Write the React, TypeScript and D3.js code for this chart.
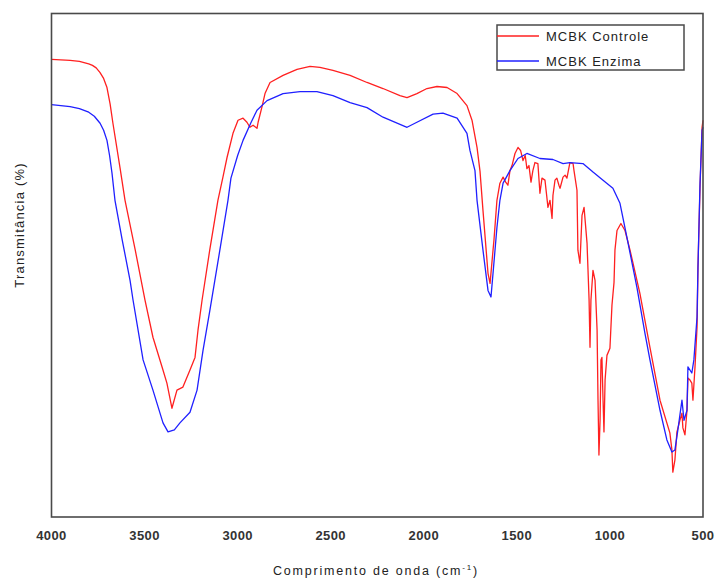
import React from "react";
import * as d3 from "d3";

const xTicks = [4000, 3500, 3000, 2500, 2000, 1500, 1000, 500];
const seriesNames = ["MCBK Controle", "MCBK Enzima"];
const seriesColors = ["#ff2020", "#2020ff"];

const controle: [number, number][] = [
  [4000, 90.9], [3900, 90.7], [3850, 90.5], [3800, 90.0], [3780, 89.7], [3760, 89.2],
  [3740, 88.3], [3720, 87.1], [3702, 85.3], [3685, 82.0], [3670, 78.2],
  [3632, 69.4], [3605, 62.9], [3550, 53.0], [3498, 43.1], [3455, 35.7], [3406, 29.8], [3380, 26.6],
  [3353, 21.6], [3326, 25.2], [3294, 25.8], [3256, 29.2], [3229, 31.7], [3213, 37.1],
  [3191, 43.1], [3150, 53.0], [3106, 62.9], [3079, 67.5], [3057, 71.4], [3025, 76.2], [2998, 78.8],
  [2971, 79.2], [2950, 78.4], [2934, 77.4], [2917, 77.8], [2896, 77.2], [2890, 78.4],
  [2869, 81.5], [2853, 84.1], [2826, 86.3], [2756, 87.7], [2681, 88.9], [2611, 89.5],
  [2558, 89.3], [2488, 88.7], [2396, 87.7], [2305, 86.3], [2219, 85.1], [2128, 83.7],
  [2090, 83.3], [2037, 84.1], [1983, 85.1], [1929, 85.5], [1875, 85.3], [1821, 84.1],
  [1768, 81.7], [1741, 78.8], [1714, 73.4], [1698, 68.7], [1682, 60.9], [1655, 48.4],
  [1644, 46.4], [1628, 53.0], [1623, 55.0], [1607, 62.9], [1591, 66.3], [1574, 67.5],
  [1560, 66.5], [1548, 65.9], [1537, 68.8], [1526, 69.8], [1510, 72.2], [1494, 73.4],
  [1480, 72.8], [1467, 70.8], [1455, 71.8], [1446, 69.2], [1435, 69.8], [1424, 66.5],
  [1414, 68.8], [1403, 70.4], [1387, 70.2], [1376, 64.3], [1365, 67.3], [1349, 66.9],
  [1340, 63.9], [1333, 61.5], [1322, 62.9], [1311, 59.3], [1306, 63.9], [1295, 66.9],
  [1285, 67.3], [1274, 65.9], [1268, 65.3], [1252, 67.5], [1241, 67.9], [1231, 67.3],
  [1215, 70.4], [1198, 70.2], [1193, 68.8], [1177, 64.9], [1172, 53.0], [1161, 50.4],
  [1150, 59.9], [1139, 61.5], [1123, 54.4], [1112, 43.1], [1107, 33.7], [1102, 43.1],
  [1091, 49.0], [1080, 47.0], [1069, 37.1], [1064, 23.2], [1059, 12.3], [1053, 19.2],
  [1048, 31.2], [1043, 31.7], [1037, 23.2], [1032, 16.9], [1026, 27.2], [1016, 32.1],
  [1000, 33.5], [989, 42.1], [978, 46.6], [973, 53.0], [962, 56.9], [941, 58.3],
  [919, 56.9], [892, 53.0], [839, 44.4], [785, 33.7], [731, 23.2], [678, 16.7],
  [667, 13.3], [662, 8.9], [651, 11.3], [640, 16.9], [624, 19.2], [613, 20.6],
  [608, 17.7], [597, 16.3], [586, 21.2], [581, 27.6], [570, 27.2], [560, 26.6],
  [554, 23.2], [543, 29.8], [532, 37.7], [527, 49.6], [516, 65.5], [505, 77.4], [500, 78.8],
];

const enzima: [number, number][] = [
  [4000, 81.9], [3900, 81.5], [3850, 81.1], [3800, 80.4], [3770, 79.6], [3739, 78.2],
  [3720, 76.8], [3702, 74.8], [3688, 71.8], [3675, 68.3],
  [3659, 62.9], [3620, 55.0], [3578, 47.0], [3562, 43.1], [3508, 31.2], [3455, 25.2], [3401, 18.7],
  [3374, 16.9], [3340, 17.3], [3310, 18.7], [3256, 20.8], [3218, 25.2], [3186, 33.1], [3149, 41.1],
  [3100, 52.0], [3052, 62.9], [3036, 67.3], [3000, 71.8], [2971, 74.8], [2930, 78.2], [2896, 80.8],
  [2842, 82.7], [2756, 84.1],
  [2665, 84.5], [2574, 84.5], [2488, 83.7], [2396, 82.3], [2305, 81.3], [2219, 79.4],
  [2090, 77.4], [2037, 78.4], [1950, 80.0], [1897, 80.2], [1821, 79.2], [1768, 76.2],
  [1752, 72.8], [1725, 68.8], [1714, 62.9], [1682, 53.0], [1655, 45.0], [1639, 43.7],
  [1628, 48.4], [1607, 57.5], [1591, 62.9], [1574, 66.3], [1537, 68.8], [1494, 71.2],
  [1446, 72.2], [1376, 71.2], [1306, 71.0], [1252, 70.2], [1215, 70.4], [1145, 70.2],
  [1091, 68.5], [1037, 66.9], [984, 65.3], [946, 62.3], [909, 55.6], [855, 45.6],
  [812, 36.5], [785, 31.2], [731, 21.2], [694, 15.3], [667, 12.9], [651, 13.3],
  [635, 17.3], [613, 23.2], [602, 19.2], [586, 21.2], [581, 29.8], [560, 28.6],
  [549, 31.2], [532, 39.7], [527, 49.6], [516, 66.3], [505, 76.8], [500, 77.4],
];

const W = 718;
const H = 579;
const left = 51.5;
const right = 703;
const top = 13.5;
const bottom = 517;

export default function App() {
  const x = d3.scaleLinear().domain([4000, 500]).range([left, right]);
  const y = d3.scaleLinear().domain([0, 100]).range([bottom, top]);
  const line = d3
    .line<[number, number]>()
    .x((d) => x(d[0]))
    .y((d) => y(d[1]));
  const series = [controle, enzima];
  const font = "Arial, 'Liberation Sans', sans-serif";
  return (
    <svg
      width={W}
      height={H}
      style={{ position: "absolute", left: 0, top: 0, background: "#fff" }}
      fontFamily={font}
    >
      <rect x={0} y={0} width={W} height={H} fill="#fff" />
      {series.map((s, i) => (
        <path
          key={i}
          d={line(s) || ""}
          fill="none"
          stroke={seriesColors[i]}
          strokeWidth={1.3}
          strokeLinejoin="round"
        />
      ))}
      <rect
        x={left}
        y={top}
        width={right - left}
        height={bottom - top}
        fill="none"
        stroke="#4a4a4a"
        strokeWidth={1.6}
      />
      {xTicks.map((t) => (
        <text
          key={t}
          x={x(t)}
          y={540}
          textAnchor="middle"
          fontSize={13}
          fontWeight="bold"
          fill="#333"
          letterSpacing={0.4}
        >
          {t}
        </text>
      ))}
      <text
        x={376}
        y={575}
        textAnchor="middle"
        fontSize={12.5}
        fill="#222"
        letterSpacing={1.8}
      >
        Comprimento de onda (cm
        <tspan dy={-5} fontSize={8}>-1</tspan>
        <tspan dy={5}>)</tspan>
      </text>
      <text
        transform={`translate(24,225) rotate(-90)`}
        textAnchor="middle"
        fontSize={13}
        fill="#222"
        letterSpacing={1.2}
      >
        Transmitância (%)
      </text>
      <rect x={497} y={25} width={187} height={45} fill="#fff" stroke="#4a4a4a" strokeWidth={1.5} />
      {seriesNames.map((n, i) => (
        <g key={n}>
          <line
            x1={497}
            x2={539}
            y1={36 + i * 25}
            y2={36 + i * 25}
            stroke={seriesColors[i]}
            strokeWidth={1.3}
          />
          <text x={546} y={41 + i * 25} fontSize={13} fill="#222" letterSpacing={1}>
            {n}
          </text>
        </g>
      ))}
    </svg>
  );
}
